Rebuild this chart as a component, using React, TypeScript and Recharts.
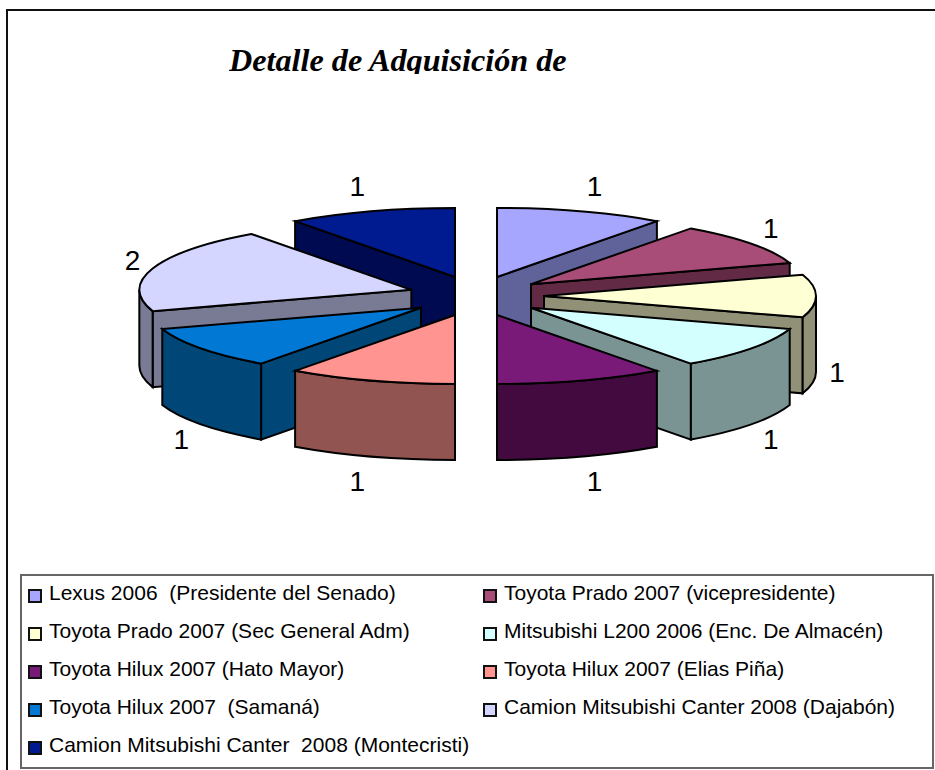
import { Legend, Pie, PieChart } from "recharts";

const CHART_W = 935;
const CHART_H = 770;

const TITLE = "Detalle de Adquisición de";

const vehicles = [
  "Lexus 2006  (Presidente del Senado)",
  "Toyota Prado 2007 (vicepresidente)",
  "Toyota Prado 2007 (Sec General Adm)",
  "Mitsubishi L200 2006 (Enc. De Almacén)",
  "Toyota Hilux 2007 (Hato Mayor)",
  "Toyota Hilux 2007 (Elias Piña)",
  "Toyota Hilux 2007  (Samaná)",
  "Camion Mitsubishi Canter 2008 (Dajabón)",
  "Camion Mitsubishi Canter  2008 (Montecristi)",
];
const counts = [1, 1, 1, 1, 1, 1, 1, 2, 1];
const topColors = [
  "#a6a6ff", "#a84c78", "#ffffd4", "#d4ffff", "#7a1a78",
  "#ff9490", "#0078d4", "#d4d6ff", "#001a90",
];
const sideColors = [
  "#60639a", "#622a45", "#919177", "#7a9494", "#430a40",
  "#925450", "#004778", "#797a93", "#000a50",
];

type Slice = { name: string; value: number; fill: string; side: string };

const slices: Slice[] = vehicles.map((name, i) => ({
  name,
  value: counts[i],
  fill: topColors[i],
  side: sideColors[i],
}));

// The two halves never touch, so each gets its own Pie: that way slices paint
// back to front on both sides. Each half adds up to 5 of the 10 units.
const rightHalf = slices.slice(0, 5);
const leftHalf = slices.slice(5).reverse();

// Fake 3D: flatten the circle into an ellipse and extrude it downwards.
const CX = 476;
const CY = 296;
const RADIUS = 272;
const SQUASH = 0.2537;
const DEPTH = 76;
const EXPLODE_X = 68;
const EXPLODE_Y = 20;

const rad = (deg: number) => (deg * Math.PI) / 180;

function Slice3D(props: any) {
  const { cx, cy, outerRadius, startAngle, endAngle, payload } = props;
  const rx = outerRadius;
  const ry = outerRadius * SQUASH;

  // clockwise degrees from 12 o'clock, 0..360
  const hi = 90 - Math.min(startAngle, endAngle);
  const lo = 90 - Math.max(startAngle, endAngle);
  const from = (lo + 360) % 360;
  const to = from + (hi - lo);
  const mid = (from + to) / 2;

  const ax = cx + EXPLODE_X * Math.sin(rad(mid));
  const ay = cy - EXPLODE_Y * Math.cos(rad(mid));
  const rim = (deg: number, drop = 0) =>
    `${ax + rx * Math.sin(rad(deg))} ${ay - ry * Math.cos(rad(deg)) + drop}`;

  const common = { stroke: "#000", strokeWidth: 2, strokeLinejoin: "miter" as const };

  // Only the cut face turned towards the viewer is drawn.
  const cutAngle = mid < 180 ? to : from;
  const showCut = cutAngle % 180 !== 0;

  const wallFrom = Math.max(from, 90);
  const wallTo = Math.min(to, 270);
  const showWall = wallTo > wallFrom;

  return (
    <g>
      {showCut && (
        <path
          {...common}
          fill={payload.side}
          d={`M ${ax} ${ay} L ${rim(cutAngle)} L ${rim(cutAngle, DEPTH)} L ${ax} ${ay + DEPTH} Z`}
        />
      )}
      {showWall && (
        <path
          {...common}
          fill={payload.side}
          d={`M ${rim(wallFrom)} A ${rx} ${ry} 0 0 1 ${rim(wallTo)} L ${rim(wallTo, DEPTH)} A ${rx} ${ry} 0 0 0 ${rim(wallFrom, DEPTH)} Z`}
        />
      )}
      <path
        {...common}
        fill={payload.fill}
        d={`M ${ax} ${ay} L ${rim(from)} A ${rx} ${ry} 0 0 1 ${rim(to)} Z`}
      />
    </g>
  );
}

function SliceLabel(props: any) {
  const { cx, cy, midAngle, value } = props;
  const c = Math.cos(rad(midAngle));
  const s = Math.sin(rad(midAngle));
  // Front labels sit below the extruded wall.
  const x = cx + (361 + 28 * s ** 4) * c;
  const y = cy - 115 * s + (s < 0.01 ? 76 : 0);
  return (
    <text
      x={x}
      y={y}
      textAnchor="middle"
      dominantBaseline="central"
      fontFamily="'Liberation Sans', Arial, sans-serif"
      fontSize={28}
      fill="#000"
    >
      {value}
    </text>
  );
}

function VehicleLegend() {
  return (
    <div
      style={{
        boxSizing: "border-box",
        width: 914,
        height: 195,
        border: "2px solid #666",
        background: "#fff",
        display: "grid",
        gridTemplateColumns: "455px 1fr",
        gridAutoRows: 38,
        fontFamily: "'Liberation Sans', Arial, sans-serif",
        fontSize: 21,
        color: "#000",
      }}
    >
      {slices.map((s) => (
        <div
          key={s.name}
          style={{ display: "flex", alignItems: "center", paddingLeft: 6, whiteSpace: "pre" }}
        >
          <span
            style={{
              boxSizing: "border-box",
              width: 14,
              height: 14,
              marginRight: 7,
              marginTop: 2,
              border: "2px solid #111",
              background: s.fill,
            }}
          />
          <span style={{ position: "relative", top: -2 }}>{s.name}</span>
        </div>
      ))}
    </div>
  );
}

export default function App() {
  return (
    <div
      style={{
        position: "absolute",
        left: 0,
        top: 0,
        width: CHART_W,
        height: CHART_H,
        overflow: "hidden",
        background: "#fff",
      }}
    >
      {/* chart frame, open on the right like the source image */}
      <div style={{ position: "absolute", left: 6, top: 9, right: -4, bottom: -4, border: "2px solid #111" }} />
      {/* the title is cut off at the bottom in the source */}
      <div
        style={{
          position: "absolute",
          left: 229,
          top: 35,
          height: 39,
          overflow: "hidden",
          whiteSpace: "pre",
          fontFamily: "'Liberation Serif', 'Times New Roman', serif",
          fontStyle: "italic",
          fontWeight: "bold",
          fontSize: 32.2,
          lineHeight: "50px",
          color: "#000",
        }}
      >
        {TITLE}
      </div>
      <div style={{ position: "absolute", left: 0, top: 0 }}>
        <PieChart width={CHART_W} height={CHART_H} margin={{ top: 0, right: 0, bottom: 0, left: 0 }}>
          <Pie
            data={rightHalf}
            dataKey="value"
            nameKey="name"
            cx={CX}
            cy={CY}
            outerRadius={RADIUS}
            startAngle={90}
            endAngle={-90}
            paddingAngle={0}
            shape={Slice3D}
            label={SliceLabel}
            labelLine={false}
            isAnimationActive={false}
          />
          <Pie
            data={leftHalf}
            dataKey="value"
            nameKey="name"
            cx={CX}
            cy={CY}
            outerRadius={RADIUS}
            startAngle={90}
            endAngle={270}
            paddingAngle={0}
            shape={Slice3D}
            label={SliceLabel}
            labelLine={false}
            isAnimationActive={false}
          />
          <Legend
            content={VehicleLegend}
            wrapperStyle={{ position: "absolute", left: 20, top: 574, width: 914, height: 195, bottom: "auto" }}
          />
        </PieChart>
      </div>
    </div>
  );
}
